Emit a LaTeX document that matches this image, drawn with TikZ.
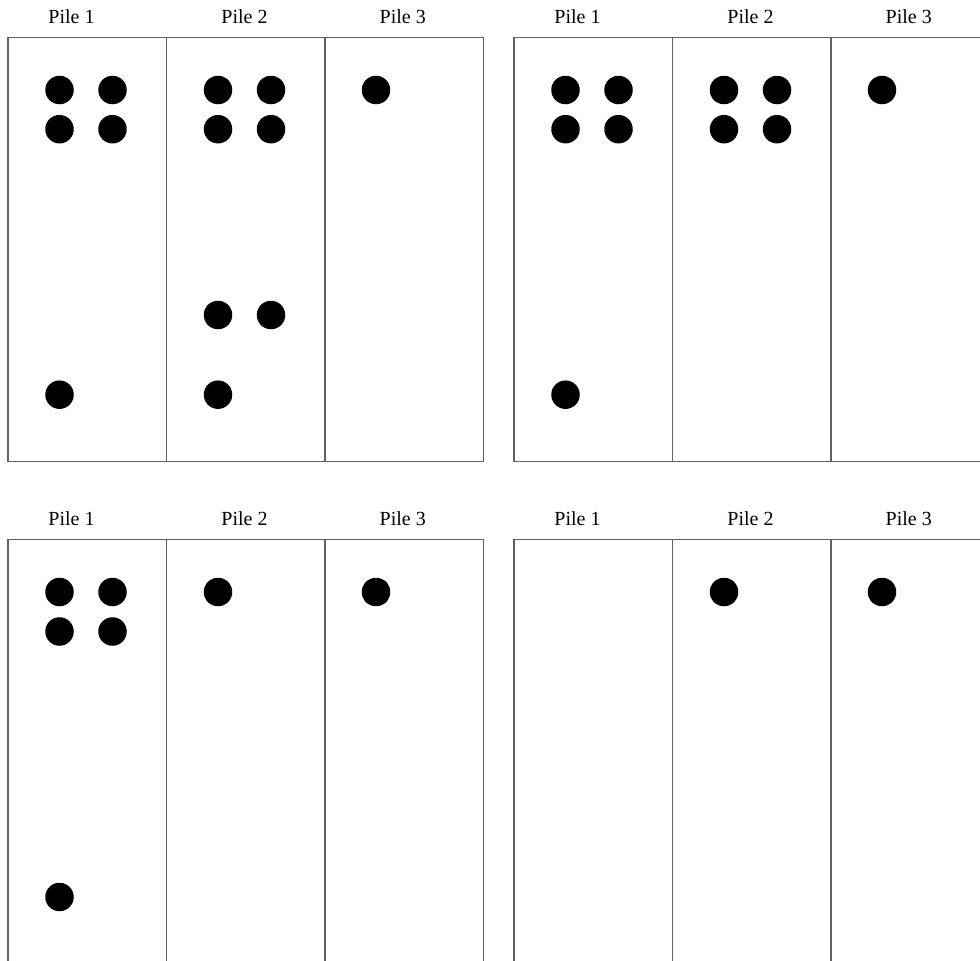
\documentclass[tikz,border=0pt]{standalone}
\usepackage{fontspec}
\setmainfont{Liberation Serif}
\newcommand\pilepanel[4]{%
  \begin{scope}[shift={(#2,#3)}]
    \draw[frame] (0,#4) -- (0,0) -- (475.7,0) -- (475.7,#4) -- cycle;
    \draw[frame] (158.3,0) -- (158.3,#4);
    \draw[frame] (317,0) -- (317,#4);
    \node[pilelabel] (#1-l1) at (63.5,-14.4) {Pile 1};
    \node[pilelabel] (#1-l2) at (236.5,-14.4) {Pile 2};
    \node[pilelabel] (#1-l3) at (394.7,-14.4) {Pile 3};
  \end{scope}}
\begin{document}
\begin{tikzpicture}[x=1pt,y=-1pt,
  frame/.style={draw=black!62,line width=1.5pt},
  token/.style={circle,fill=black,inner sep=0pt,minimum size=28.5pt},
  pilelabel/.style={anchor=base,font=\fontsize{20}{24}\selectfont,inner sep=0pt}]
\useasboundingbox (0,0) rectangle (980,961);
\clip (0,0) rectangle (980,961);
\fill[white] (0,0) rectangle (980,961);

% panels
\pilepanel{A}{8}{37.7}{424}
\pilepanel{B}{514}{37.7}{424}
\pilepanel{C}{8}{539.5}{440}
\pilepanel{D}{514}{539.5}{440}

% panel A (top left)
\begin{scope}[shift={(8,37.7)}]
  \node[token] (A11) at (51.5,52.3) {};
  \node[token] (A12) at (104.5,52.3) {};
  \node[token] (A13) at (51.5,91.5) {};
  \node[token] (A14) at (104.5,91.5) {};
  \node[token] (A15) at (51.5,357) {};
  \node[token] (A21) at (210,52.3) {};
  \node[token] (A22) at (263,52.3) {};
  \node[token] (A23) at (210,91.5) {};
  \node[token] (A24) at (263,91.5) {};
  \node[token] (A25) at (210,277.3) {};
  \node[token] (A26) at (263,277.3) {};
  \node[token] (A27) at (210,357) {};
  \node[token] (A31) at (368,52.3) {};
\end{scope}

% panel B (top right)
\begin{scope}[shift={(514,37.7)}]
  \node[token] (B11) at (51.5,52.3) {};
  \node[token] (B12) at (104.5,52.3) {};
  \node[token] (B13) at (51.5,91.5) {};
  \node[token] (B14) at (104.5,91.5) {};
  \node[token] (B15) at (51.5,357) {};
  \node[token] (B21) at (210,52.3) {};
  \node[token] (B22) at (263,52.3) {};
  \node[token] (B23) at (210,91.5) {};
  \node[token] (B24) at (263,91.5) {};
  \node[token] (B31) at (368,52.3) {};
\end{scope}

% panel C (bottom left)
\begin{scope}[shift={(8,539.5)}]
  \node[token] (C11) at (51.5,52.5) {};
  \node[token] (C12) at (104.5,52.5) {};
  \node[token] (C13) at (51.5,92) {};
  \node[token] (C14) at (104.5,92) {};
  \node[token] (C15) at (51.5,357.5) {};
  \node[token] (C21) at (210,52.5) {};
  \node[token] (C31) at (368,52.5) {};
\end{scope}

% panel D (bottom right)
\begin{scope}[shift={(514,539.5)}]
  \node[token] (D21) at (210,52.5) {};
  \node[token] (D31) at (368,52.5) {};
\end{scope}
\end{tikzpicture}
\end{document}
